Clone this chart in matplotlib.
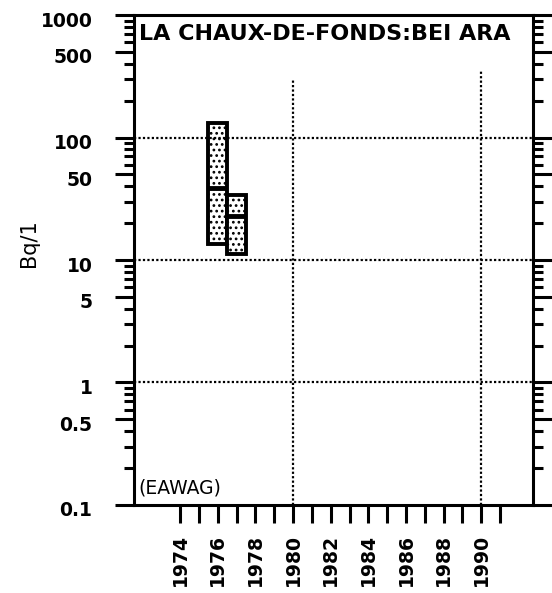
import matplotlib
matplotlib.use('Agg')
import matplotlib.pyplot as plt
import matplotlib.transforms as mtransforms
from matplotlib.ticker import FixedLocator, NullFormatter

# box data per year (Bq/l)
years = [1976, 1977]
lows = [13.5, 11.2]
highs = [132, 34]
medians = [39, 22.8]

ytick_vals = [0.1, 0.5, 1, 5, 10, 50, 100, 500, 1000]
ytick_text = ['0.1', '0.5', '1', '5', '10', '50', '100', '500', '1000']
xtick_years = list(range(1974, 1992))
xlabel_years = list(range(1974, 1991, 2))
grid_y = [1, 10, 100]
grid_x = [1980, 1990]
grid_x_top = [300, 350]

fig = plt.figure(figsize=(5.52, 5.93), dpi=100)
ax = fig.add_axes([0.2428, 0.1484, 0.7228, 0.8263])
ax.set_yscale('log')
ax.set_ylim(0.1, 1000)
ax.set_xlim(1971.55, 1992.75)

plt.rcParams['hatch.linewidth'] = 1.2
heights = [h - l for h, l in zip(highs, lows)]
ax.bar(years, heights, bottom=lows, width=1.0, facecolor='white',
       edgecolor='black', hatch='...', linewidth=2.8, zorder=2)
for x, m in zip(years, medians):
    ax.plot([x - 0.5, x + 0.5], [m, m], color='black', lw=3.5, zorder=3,
            solid_capstyle='butt')

# dotted grid
for gy in grid_y:
    ax.axhline(gy, color='black', lw=1.6, ls=(0, (1, 1)), zorder=4)
for gx, top in zip(grid_x, grid_x_top):
    ax.plot([gx, gx], [0.1, top], color='black', lw=1.6, ls=(0, (1, 1)), zorder=4)

# y axis ticks, both sides
minor = []
for dec in [0.1, 1, 10, 100]:
    for k in [2, 3, 4, 6, 7, 8, 9]:
        minor.append(dec * k)
ax.yaxis.set_major_locator(FixedLocator(ytick_vals))
ax.yaxis.set_minor_locator(FixedLocator(minor))
ax.yaxis.set_minor_formatter(NullFormatter())
ax.set_yticklabels(ytick_text, fontsize=13.5, fontweight='bold')
ax.tick_params(axis='y', which='major', direction='out', length=14, width=2.2,
               pad=16, left=True, right=True)
ax.tick_params(axis='y', which='minor', direction='out', length=7, width=2.2,
               left=True, right=True)
shift = mtransforms.ScaledTranslation(0, -4 / 100, fig.dpi_scale_trans)
for lab in ax.get_yticklabels():
    lab.set_transform(lab.get_transform() + shift)

# x axis ticks, each year, labels every second year
ax.xaxis.set_major_locator(FixedLocator(xtick_years))
ax.set_xticklabels([str(y) if y in xlabel_years else '' for y in xtick_years],
                   rotation=90, fontsize=13.5, fontweight='bold')
ax.tick_params(axis='x', which='major', direction='out', length=13, width=2.2, pad=8)
ax.xaxis.set_minor_locator(FixedLocator([]))

for s in ax.spines.values():
    s.set_linewidth(2.2)

fig.text(29 / 552, 1 - 243 / 593, 'Bq/1', rotation=90, fontsize=15,
         ha='center', va='center')

ax.text(0.012, 0.962, 'LA CHAUX-DE-FONDS:BEI ARA', transform=ax.transAxes,
        fontsize=16, fontweight='bold', va='center', ha='left')
ax.text(0.012, 0.035, '(EAWAG)', transform=ax.transAxes,
        fontsize=13.5, va='center', ha='left')

fig.savefig('out.png', dpi=100)
